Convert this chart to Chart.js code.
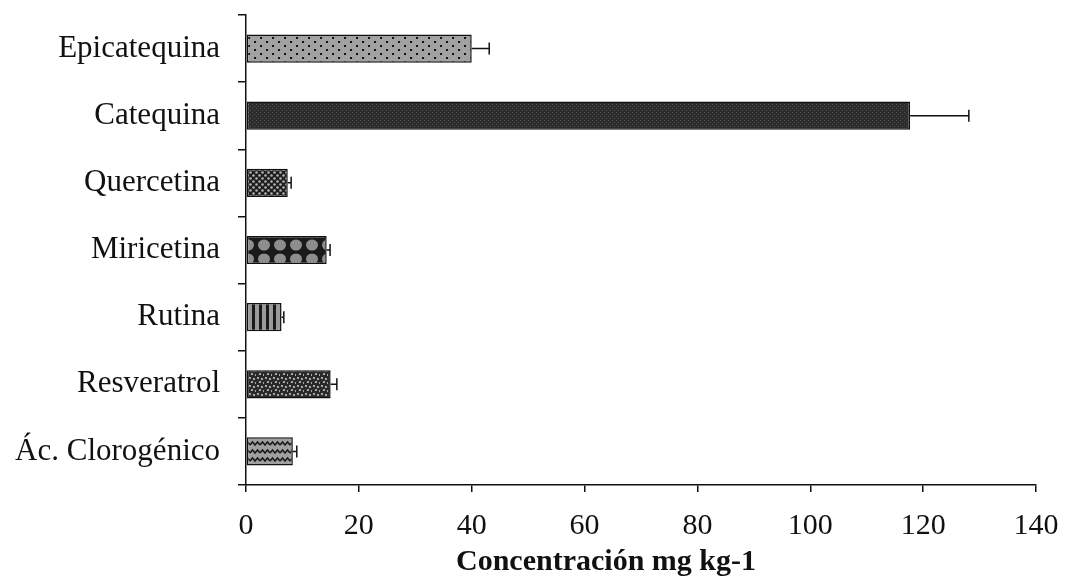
<!DOCTYPE html>
<html>
<head>
<meta charset="utf-8">
<script src="https://cdn.jsdelivr.net/npm/chart.js@4/dist/chart.umd.min.js"></script>
<style>
  html, body { margin: 0; padding: 0; background: #fff; }
  canvas { display: block; }
</style>
</head>
<body>
<canvas id="chart" width="1067" height="580"></canvas>
<script>
"use strict";

const categories = ["Epicatequina", "Catequina", "Quercetina", "Miricetina", "Rutina", "Resveratrol", "Ác. Clorogénico"];
const values = [40.0, 117.7, 7.4, 14.3, 6.3, 15.0, 8.3];
const errors = [3.1, 10.4, 0.6, 0.6, 0.4, 1.1, 0.7];
const xTitle = "Concentración mg kg-1";

const FONT = "'Liberation Serif', 'Times New Roman', serif";

// small canvas tiles used as bar fills
function makePattern(kind) {
  let c = document.createElement("canvas");
  let g = c.getContext("2d");
  if (kind === "dots") {
    c.width = 12; c.height = 8;
    g.fillStyle = "#a2a2a2"; g.fillRect(0, 0, 12, 8);
    g.fillStyle = "#8c8c8c"; g.fillRect(5, 1, 1, 1); g.fillRect(10, 5, 1, 1);
    g.fillStyle = "#111";
    g.fillRect(2, 1, 2, 2); g.fillRect(8, 5, 2, 2);
  } else if (kind === "dark") {
    c.width = 4; c.height = 4;
    g.fillStyle = "#2c2c2c"; g.fillRect(0, 0, 4, 4);
    g.fillStyle = "#4a4a4a"; g.fillRect(0, 0, 1, 1); g.fillRect(2, 2, 1, 1);
  } else if (kind === "grid") {
    c.width = 6; c.height = 6;
    g.fillStyle = "#1e1e1e"; g.fillRect(0, 0, 6, 6);
    g.fillStyle = "#b4b4b4";
    g.beginPath(); g.arc(1.5, 1.5, 1.3, 0, Math.PI * 2); g.fill();
    g.beginPath(); g.arc(4.5, 4.5, 1.3, 0, Math.PI * 2); g.fill();
  } else if (kind === "diamond") {
    c.width = 16; c.height = 14;
    g.fillStyle = "#1a1a1a"; g.fillRect(0, 0, 16, 14);
    g.fillStyle = "#8e8e8e";
    g.beginPath(); g.ellipse(8, 7, 6, 5.5, 0, 0, Math.PI * 2); g.fill();
  } else if (kind === "stripes") {
    c.width = 7; c.height = 2;
    g.fillStyle = "#9a9a9a"; g.fillRect(0, 0, 7, 2);
    g.fillStyle = "#1a1a1a"; g.fillRect(0, 0, 3, 2);
  } else if (kind === "confetti") {
    c.width = 8; c.height = 8;
    g.fillStyle = "#2a2a2a"; g.fillRect(0, 0, 8, 8);
    g.fillStyle = "#a8a8a8";
    g.fillRect(1, 1, 2, 2); g.fillRect(5, 2, 2, 2); g.fillRect(3, 5, 2, 2); g.fillRect(7, 6, 1, 2);
  } else if (kind === "wave") {
    c.width = 10; c.height = 8;
    g.fillStyle = "#a0a0a0"; g.fillRect(0, 0, 10, 8);
    g.strokeStyle = "#1a1a1a"; g.lineWidth = 1.6;
    g.beginPath();
    g.moveTo(0, 5); g.lineTo(2.5, 2); g.lineTo(5, 5); g.lineTo(7.5, 2); g.lineTo(10, 5);
    g.stroke();
  }
  return g.createPattern(c, "repeat");
}

const fills = ["dots", "dark", "grid", "diamond", "stripes", "confetti", "wave"].map(makePattern);

const errorBars = {
  id: "errorBars",
  afterDatasetsDraw(chart) {
    let ctx = chart.ctx;
    let x = chart.scales.x;
    let meta = chart.getDatasetMeta(0);
    ctx.save();
    ctx.strokeStyle = "#111";
    ctx.lineWidth = 1.5;
    meta.data.forEach((bar, i) => {
      let x0 = x.getPixelForValue(values[i]);
      let x1 = x.getPixelForValue(values[i] + errors[i]);
      ctx.beginPath();
      ctx.moveTo(x0, bar.y);
      ctx.lineTo(x1, bar.y);
      ctx.moveTo(x1, bar.y - 6);
      ctx.lineTo(x1, bar.y + 6);
      ctx.stroke();
    });
    ctx.restore();
  },
};

// axis title sits a bit left of the plot centre, as in the original
const axisTitle = {
  id: "axisTitle",
  afterDraw(chart) {
    let ctx = chart.ctx;
    ctx.save();
    ctx.font = "bold 30px " + FONT;
    ctx.fillStyle = "#111";
    ctx.textAlign = "center";
    ctx.textBaseline = "alphabetic";
    ctx.fillText(xTitle, chart.chartArea.left + 360, 570);
    ctx.restore();
  },
};

new Chart(document.getElementById("chart"), {
  type: "bar",
  data: {
    labels: categories,
    datasets: [
      {
        data: values,
        backgroundColor: fills,
        borderColor: "#111",
        borderWidth: 1.5,
        borderSkipped: false,
        categoryPercentage: 1,
        barPercentage: 0.42,
      },
    ],
  },
  options: {
    indexAxis: "y",
    responsive: false,
    animation: false,
    devicePixelRatio: 1,
    layout: { padding: { top: 15, right: 31, left: 0, bottom: 0 } },
    plugins: {
      legend: { display: false },
      tooltip: { enabled: false },
    },
    scales: {
      x: {
        min: 0,
        max: 140,
        ticks: {
          stepSize: 20,
          color: "#111",
          font: { family: FONT, size: 30 },
          padding: 16,
        },
        grid: { drawOnChartArea: false, drawTicks: true, tickLength: 7, color: "#111", lineWidth: 1.5 },
        border: { color: "#111", width: 1.5 },
        afterFit: (s) => { s.height = 95; s.paddingLeft = 0; s.paddingRight = 0; },
      },
      y: {
        ticks: {
          color: "#111",
          font: { family: FONT, size: 31 },
          padding: 18,
        },
        grid: { offset: true, drawOnChartArea: false, drawTicks: true, tickLength: 8, color: "#111", lineWidth: 1.5 },
        border: { color: "#111", width: 1.5 },
        afterFit: (s) => { s.width = 246; s.paddingTop = 0; s.paddingBottom = 0; },
      },
    },
  },
  plugins: [errorBars, axisTitle],
});
</script>
</body>
</html>
